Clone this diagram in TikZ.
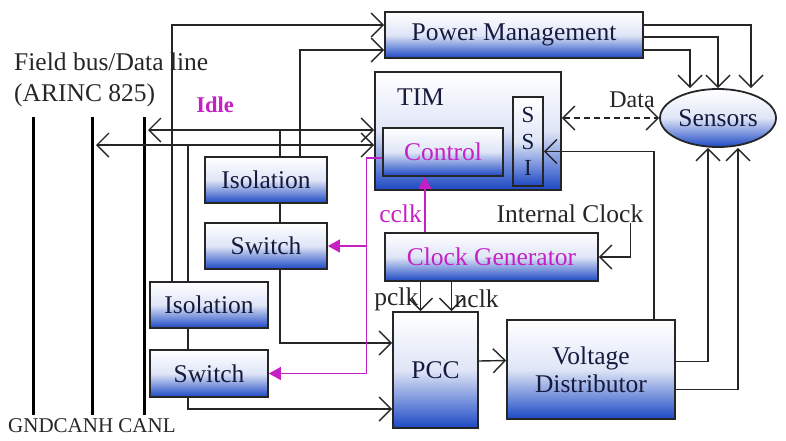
\documentclass[tikz,border=0pt]{standalone}
\usepackage{fontspec}
\setmainfont{Liberation Serif}
\usepackage{xcolor}
\usetikzlibrary{arrows.meta,calc,positioning,shapes.geometric}
\definecolor{boxblue}{RGB}{28,72,196}
\definecolor{boxtext}{RGB}{22,26,60}
\definecolor{sigmag}{RGB}{196,32,196}

\begin{document}
\begin{tikzpicture}[x=1pt,y=-1pt,font=\rmfamily\fontsize{25.5}{28}\selectfont,
  >={Straight Barb[length=12pt,width=24pt]},
  blk/.style={draw=black!85,line width=1.8pt,top color=white,bottom color=boxblue,
    middle color=boxblue!14,text=boxtext,inner sep=0pt},
  conn/.style={line width=1.4pt,black!85},
  sig/.style={line width=1.5pt,sigmag,-{Triangle[length=12pt,width=13pt]}},
  bus/.style={line width=3pt},
  lbl/.style={inner sep=0pt,text=black!85}]
\useasboundingbox (0,0) rectangle (786,440);
% field bus
\coordinate (gndT) at (33,117); \coordinate (gndB) at (33,415);
\coordinate (canhT) at (92,117); \coordinate (canhB) at (92,415);
\coordinate (canlT) at (144,117); \coordinate (canlB) at (144,415);
\draw[bus] (gndT)--(gndB); \draw[bus] (canhT)--(canhB); \draw[bus] (canlT)--(canlB);
\node[lbl,anchor=west] (fbus) at (14,62) {Field bus/Data line};
\node[lbl,anchor=west] (arinc) at (14,95) {(ARINC 825)};
\node[lbl,anchor=west,font=\rmfamily\fontsize{21}{24}\selectfont] (buslbl) at (8,426) {GNDCANH CANL};
\node[lbl,text=sigmag,font=\rmfamily\bfseries\fontsize{22.5}{25}\selectfont] (idle) at (215,105) {Idle};
% blocks
\node[blk,minimum width=258pt,minimum height=46pt] (pm) at (514,35) {Power Management};
\node[blk,minimum width=186pt,minimum height=118pt] (tim) at (468,131) {};
\node[lbl,anchor=west,text=boxtext] (timlbl) at (397,97) {TIM};
\node[blk,minimum width=120pt,minimum height=48pt,text=sigmag] (ctrl) at (443,152) {Control};
\node[blk,minimum width=30pt,minimum height=89pt,align=center,font=\rmfamily\fontsize{23}{26.5}\selectfont] (ssi) at (528,141.5) {S\\S\\I};
\node[blk,ellipse,minimum width=116pt,minimum height=58pt] (sens) at (718,118) {Sensors};
\node[blk,minimum width=122pt,minimum height=46pt] (iso1) at (266,180) {Isolation};
\node[blk,minimum width=122pt,minimum height=46pt] (sw1) at (266,246) {Switch};
\node[blk,minimum width=118pt,minimum height=46pt] (iso2) at (209,305) {Isolation};
\node[blk,minimum width=118pt,minimum height=47pt] (sw2) at (209,373.5) {Switch};
\node[blk,minimum width=213pt,minimum height=48pt,text=sigmag] (cg) at (491.5,257) {Clock Generator};
\node[blk,minimum width=85pt,minimum height=116pt] (pcc) at (435.5,370) {PCC};
\node[blk,minimum width=168pt,minimum height=99pt,align=center] (vd) at (591,369.5) {Voltage\\Distributor};
\node[lbl] (intclk) at (570,214) {Internal Clock};
\node[lbl,font=\rmfamily\fontsize{24}{26}\selectfont] (data) at (632,100) {Data};
% bus side connections
\coordinate (busL) at ([yshift=1pt]tim.west);
\coordinate (busH) at ([yshift=-14pt]tim.west);
\coordinate (iso1a) at ([xshift=14pt]iso1.north);
\coordinate (iso2a) at ([xshift=-21pt]iso2.north);
\draw[conn,->] ([xshift=-37pt]iso2.north) |- ([yshift=10pt]pm.west);
\draw[conn,->] ([xshift=34pt]iso1.north) |- ([yshift=-15pt]pm.west);
\draw[conn,<->,shorten <=4pt] (canlT |- busL) -- (busL);
\draw[conn,<->,shorten <=4pt] (canhT |- busH) -- (busH);
\draw[conn] (iso1a) -- (iso1a |- busL);
\draw[conn] (iso2a) -- (iso2a |- busH);
\draw[conn] ([xshift=14pt]iso1.south) -- ([xshift=14pt]sw1.north);
\draw[conn] ([xshift=-21pt]iso2.south) -- ([xshift=-21pt]sw2.north);
\draw[conn,->] ([xshift=14pt]sw1.south) |- ([yshift=27pt]pcc.west);
\draw[conn,->] ([xshift=-21pt]sw2.south) |- ([yshift=-39pt]pcc.west);
% control signals
\draw[line width=1.2pt,sigmag] ([yshift=-6pt]ctrl.west) -- ++(-16,0) coordinate (mtop) -- (mtop |- sw2.east);
\draw[sig] (mtop |- sw2.east) -- (sw2.east);
\draw[sig] (mtop |- sw1.east) -- (sw1.east);
\coordinate (cc) at ([xshift=-18pt]ctrl.south);
\draw[sig] (cc |- cg.north) -- (cc);
\node[lbl,text=sigmag,anchor=east] (cclk) at ([xshift=-3pt]cc |- intclk) {cclk};
% clocks
\draw[conn,->] ([xshift=-13pt]intclk.south east) |- (cg.east);
\coordinate (pc) at ([xshift=-15pt]pcc.north);
\coordinate (nc) at ([xshift=16pt]pcc.north);
\draw[conn,->] (pc |- cg.south) -- (pc);
\draw[conn,->] (nc |- cg.south) -- (nc);
\node[lbl,anchor=east] (pclk) at ([xshift=-2pt,yshift=12pt]pc) {pclk};
\node[lbl,anchor=west] (nclk) at ([xshift=3pt,yshift=12pt]nc) {nclk};
% power and sensors
\draw[conn,->] ([yshift=9pt]pcc.east) -- ([yshift=9pt]vd.west);
\draw[conn,->] ([xshift=63pt]vd.north) |- ([yshift=-10pt]ssi.east);
\draw[conn,->] ([yshift=8pt]vd.east) -| ([xshift=-10pt]sens.south);
\draw[conn,->] ([yshift=-20pt]vd.east) -| ([xshift=20pt]sens.south);
\draw[conn,->] ([yshift=10pt]pm.east) -| ([xshift=33pt]sens.north);
\draw[conn,->] ([yshift=-2pt]pm.east) -| (sens.north);
\draw[conn,->] ([yshift=-15pt]pm.east) -| ([xshift=-28pt]sens.north);
\draw[conn,<->,dashed,dash pattern=on 6pt off 4pt] ([yshift=13pt]tim.east) -- (sens.west);
\end{tikzpicture}
\end{document}
